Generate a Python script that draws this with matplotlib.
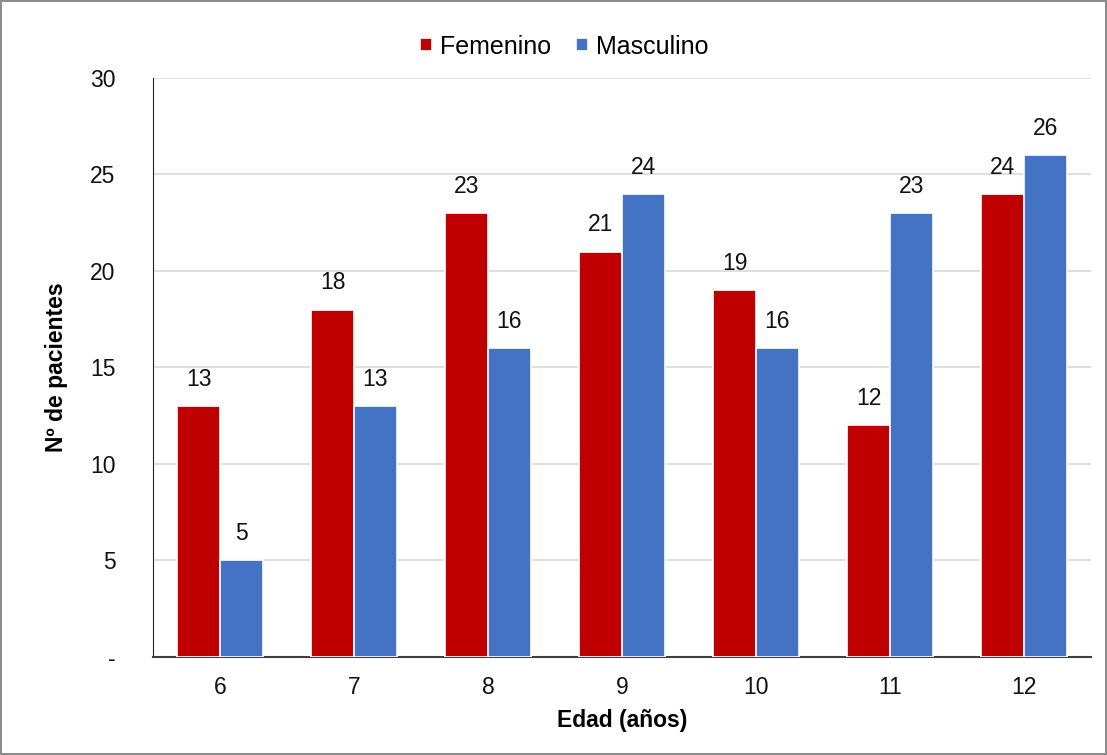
import numpy as np
import matplotlib
matplotlib.use("Agg")
from matplotlib import pyplot as plt

plt.rcParams['font.family'] = ['Liberation Sans', 'DejaVu Sans']

edades = ['6', '7', '8', '9', '10', '11', '12']
femenino = [13, 18, 23, 21, 19, 12, 24]
masculino = [5, 13, 16, 24, 16, 23, 26]
y_ticks = [0, 5, 10, 15, 20, 25, 30]
y_tick_labels = ['-', '5', '10', '15', '20', '25', '30']

RED = '#c00000'
BLUE = '#4472c4'

fig = plt.figure(figsize=(11.07, 7.55), dpi=100)
fig.patch.set_edgecolor('#8c8c8c')
fig.patch.set_linewidth(1.5)
ax = fig.add_axes([0.1382, 0.1298, 0.8473, 0.7669])

x = np.arange(len(edades))
w = 0.32
b1 = ax.bar(x - w / 2, femenino, w, color=RED, edgecolor='white', linewidth=1.2,
            label='Femenino', zorder=3)
b2 = ax.bar(x + w / 2, masculino, w, color=BLUE, edgecolor='white', linewidth=1.2,
            label='Masculino', zorder=3)

# etiquetas de valor encima de cada barra
for bars, vals in [(b1, femenino), (b2, masculino)]:
    for bar, v in zip(bars, vals):
        ax.annotate(str(v), (bar.get_x() + bar.get_width() / 2, v),
                    xytext=(0, 11), textcoords='offset points',
                    ha='center', va='bottom', fontsize=16.5, color='#111111')

ax.set_xlim(-0.5, len(edades) - 0.5)
ax.set_ylim(0, 30)
ax.set_xticks(x)
ax.set_xticklabels(edades, fontsize=16.5)
ax.set_yticks(y_ticks)
ax.set_yticklabels(y_tick_labels, fontsize=16.5)
ax.tick_params(axis='both', length=0, labelcolor='#111111')
ax.tick_params(axis='y', pad=27)
ax.tick_params(axis='x', pad=14)

ax.yaxis.grid(True, color='#d9d9d9', linewidth=1.2, zorder=0)
ax.set_axisbelow(True)
for s in ['top', 'right']:
    ax.spines[s].set_visible(False)
ax.spines['left'].set_color('#262626')
ax.spines['bottom'].set_color('#404040')
ax.spines['bottom'].set_linewidth(1.5)

ax.set_xlabel('Edad (años)', fontsize=16.5, fontweight='bold', labelpad=7)
ax.set_ylabel('Nº de pacientes', fontsize=16.5, fontweight='bold', labelpad=16)

fig.legend(loc='upper center', bbox_to_anchor=(0.51, 0.984), ncol=2, frameon=False,
           fontsize=18, handlelength=0.45, handleheight=0.45, handletextpad=0.35,
           columnspacing=1.0)

fig.savefig('out.png', dpi=100, edgecolor=fig.get_edgecolor())
